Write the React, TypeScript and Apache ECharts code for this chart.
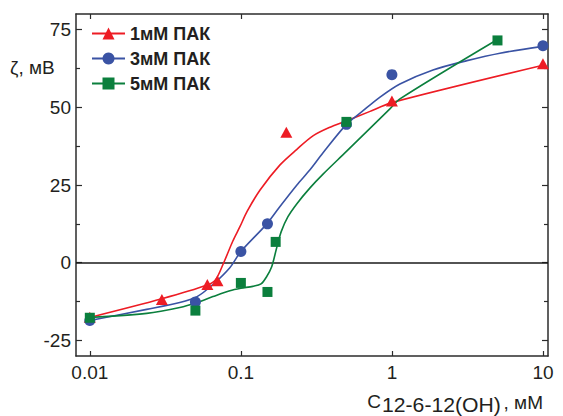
import React, { useEffect, useRef } from "react";
import * as echarts from "echarts";

// ---- data ----
const seriesNames = ["1мМ ПАК", "3мМ ПАК", "5мМ ПАК"];
const seriesColors = ["#ed1c24", "#3a53a4", "#0b7f3d"];
const seriesSymbols = ["triangle", "circle", "rect"];
const symbolSizes: any[] = [[12, 11], 11, 10];

// measured points [concentration mM, zeta mV]
const points1 = [[0.01, -17.5], [0.03, -11.8], [0.06, -7], [0.07, -5.8], [0.2, 42], [1, 52], [10, 64]];
const points2 = [[0.01, -18.6], [0.05, -12.6], [0.1, 3.6], [0.15, 12.5], [0.5, 44.5], [1, 60.5], [10, 69.8]];
const points3 = [[0.01, -17.7], [0.05, -15.4], [0.1, -6.5], [0.15, -9.4], [0.17, 6.7], [0.5, 45.3], [5, 71.5]];

// fitted curves
const curve1 = [
  [0.01, -17.6], [0.03, -11.6], [0.06, -7.2], [0.068, -5.5], [0.077, 0], [0.0885, 7],
  [0.0984, 11.5], [0.11, 16.5], [0.134, 23.4], [0.181, 31.4], [0.234, 36.4], [0.3, 40.8],
  [0.39, 43.6], [0.5, 45.6], [0.71, 48.6], [1, 51.5], [10, 63.5],
];
const curve2 = [
  [0.01, -18.6], [0.0238, -15], [0.0394, -12.8], [0.0513, -10.9], [0.0653, -7], [0.0845, -1.6],
  [0.1, 3.6], [0.1486, 12.5], [0.181, 18], [0.235, 25], [0.286, 29.8], [0.349, 35.3],
  [0.5, 44.5], [0.63, 48.5], [0.83, 53.2], [1.13, 57.5], [1.87, 62],
  [3.14, 65], [5.19, 67.4], [10, 69.6],
];
const curve3 = [
  [0.01, -17.6], [0.0238, -16.3], [0.0394, -14.4], [0.0513, -12.8], [0.0653, -10.9],
  [0.0845, -9.0], [0.1, -8.2], [0.12, -7.6], [0.136, -6.8], [0.148, -4.5], [0.16, -1.3],
  [0.172, 4.5], [0.185, 10], [0.205, 14.8], [0.235, 19], [0.286, 24], [0.35, 28.5],
  [0.5, 35.8], [0.97, 49.5], [1.13, 52.7], [5, 71.8],
];

const xTickValues = [0.01, 0.1, 1, 10];
const xTickLabels = ["0.01", "0.1", "1", "10"];
const yTickValues = [-25, 0, 25, 50, 75];
const yMinorValues = [-12.5, 12.5, 37.5, 62.5];
const xRange = [0.0081, 10.8];
const yRange = [-30, 80];

const FONT = "'Liberation Sans', Arial, Helvetica, sans-serif";
const AXIS_COLOR = "#2b2b2b";

const lg = (v: number) => Math.log10(v);
const toLog = (arr: number[][]) => arr.map(([x, y]) => [lg(x), y]);

export default function App() {
  const ref = useRef<HTMLDivElement>(null);

  useEffect(() => {
    if (!ref.current) return;
    const chart = echarts.init(ref.current, undefined, { renderer: "svg" });

    const xLogTicks = xTickValues.map(lg);
    const labelFor = (v: number) => {
      const i = xLogTicks.findIndex((t) => Math.abs(t - v) < 1e-6);
      return i >= 0 ? xTickLabels[i] : "";
    };

    const baseX = {
      type: "value",
      min: lg(xRange[0]),
      max: lg(xRange[1]),
      splitLine: { show: false },
      axisLine: { show: true, onZero: false, lineStyle: { color: AXIS_COLOR, width: 1.5 } },
      axisTick: { show: true, inside: true, length: 5, customValues: xLogTicks, lineStyle: { color: AXIS_COLOR, width: 1.2 } },
    };
    const baseY = {
      type: "value",
      min: yRange[0],
      max: yRange[1],
      splitLine: { show: false },
    };

    const curves = [curve1, curve2, curve3];
    const points = [points1, points2, points3];

    const lineSeries = curves.map((c, i) => ({
      name: seriesNames[i],
      type: "line",
      data: toLog(c),
      smooth: 0.3,
      showSymbol: false,
      symbol: seriesSymbols[i],
      symbolSize: symbolSizes[i],
      lineStyle: { color: seriesColors[i], width: 1.6 },
      itemStyle: { color: seriesColors[i] },
      z: 3,
      ...(i === 0
        ? {
            markLine: {
              silent: true,
              symbol: ["none", "none"],
              label: { show: false },
              lineStyle: { color: "#1a1a1a", width: 1.5, type: "solid" },
              data: [{ yAxis: 0 }],
              z: 2,
            },
          }
        : {}),
    }));

    const scatterSeries = points.map((p, i) => ({
      name: seriesNames[i],
      type: "scatter",
      data: toLog(p),
      symbol: seriesSymbols[i],
      symbolSize: symbolSizes[i],
      itemStyle: { color: seriesColors[i], opacity: 1 },
      z: 4 + i,
    }));

    const hiddenLine = { show: false, onZero: false };

    chart.setOption({
      animation: false,
      textStyle: { fontFamily: FONT },
      grid: { left: 76, right: 15, top: 14, bottom: 60, containLabel: false },
      legend: {
        data: seriesNames,
        orient: "vertical",
        left: 86,
        top: 19,
        itemWidth: 33,
        itemHeight: 15,
        itemGap: 6,
        textStyle: { fontFamily: FONT, fontSize: 18, fontWeight: "bold", color: "#231f20", lineHeight: 19 },
      },
      xAxis: [
        {
          ...baseX,
          position: "bottom",
          axisLabel: {
            show: true,
            customValues: xLogTicks,
            formatter: (v: number) => labelFor(v),
            fontSize: 19,
            color: "#231f20",
            margin: 7,
            fontFamily: FONT,
          },
        },
        {
          ...baseX,
          position: "top",
          axisLabel: { show: false },
        },
      ],
      yAxis: [
        {
          ...baseY,
          position: "left",
          axisLine: { show: true, onZero: false, lineStyle: { color: AXIS_COLOR, width: 1.5 } },
          axisTick: { show: true, inside: true, length: 6, customValues: yTickValues, lineStyle: { color: AXIS_COLOR, width: 1.2 } },
          axisLabel: { show: true, customValues: yTickValues, fontSize: 19, color: "#231f20", margin: 5, fontFamily: FONT },
        },
        {
          ...baseY,
          position: "left",
          axisLine: hiddenLine,
          axisTick: { show: true, inside: true, length: 4, customValues: yMinorValues, lineStyle: { color: AXIS_COLOR, width: 1.2 } },
          axisLabel: { show: false },
        },
        {
          ...baseY,
          position: "right",
          axisLine: { show: true, onZero: false, lineStyle: { color: AXIS_COLOR, width: 1.5 } },
          axisTick: { show: true, inside: true, length: 6, customValues: yTickValues, lineStyle: { color: AXIS_COLOR, width: 1.2 } },
          axisLabel: { show: false },
        },
        {
          ...baseY,
          position: "right",
          axisLine: hiddenLine,
          axisTick: { show: true, inside: true, length: 4, customValues: yMinorValues, lineStyle: { color: AXIS_COLOR, width: 1.2 } },
          axisLabel: { show: false },
        },
      ],
      graphic: [
        {
          type: "text",
          left: 10,
          top: 58,
          style: { text: "ζ, мВ", fontSize: 19, fill: "#231f20", fontFamily: FONT },
        },
        {
          type: "text",
          x: 381,
          y: 401.5,
          style: { text: "C", fontSize: 19, fill: "#231f20", fontFamily: FONT, align: "right", verticalAlign: "middle" },
        },
        {
          type: "text",
          x: 382,
          y: 405,
          scaleX: 1.06,
          style: { text: "12-6-12(OH)", fontSize: 20, fill: "#231f20", fontFamily: FONT, align: "left", verticalAlign: "middle" },
        },
        {
          type: "text",
          x: 543,
          y: 402,
          style: { text: ", мМ", fontSize: 19, fill: "#231f20", fontFamily: FONT, align: "right", verticalAlign: "middle" },
        },
      ],
      series: [...lineSeries, ...scatterSeries],
    });

    return () => chart.dispose();
  }, []);

  return <div ref={ref} style={{ position: "absolute", left: 0, top: 0, width: 563, height: 416 }} />;
}
